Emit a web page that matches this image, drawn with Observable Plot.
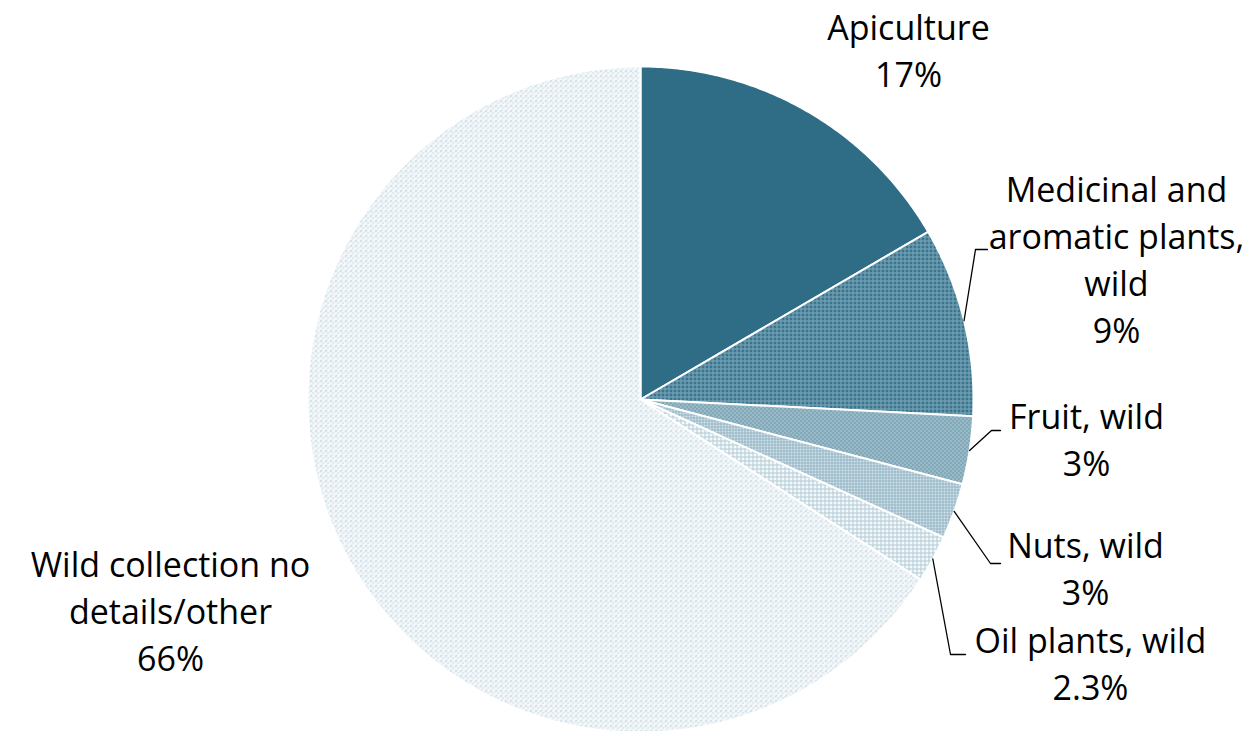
<!DOCTYPE html>
<html>
<head>
<meta charset="utf-8">
<script src="https://cdn.jsdelivr.net/npm/d3@7"></script>
<script src="https://cdn.jsdelivr.net/npm/@observablehq/plot@0.6"></script>
<style>
  html, body { margin: 0; padding: 0; background: #fff; }
  #chart svg { display: block; }
</style>
</head>
<body>
<div id="chart"></div>
<script>
// ---- data ----
const categories = ["Apiculture", "Medicinal and aromatic plants, wild", "Fruit, wild", "Nuts, wild", "Oil plants, wild", "Wild collection no details/other"];
const labelNames = ["Apiculture", "Medicinal and\naromatic plants,\nwild", "Fruit, wild", "Nuts, wild", "Oil plants, wild", "Wild collection no\ndetails/other"];
const shares = [16.6, 9.2, 3.3, 2.7, 2.3, 65.9];
const percentLabels = ["17%", "9%", "3%", "3%", "2.3%", "66%"];

// ---- layout ----
const W = 1251, H = 731;
const cx = 640, cy = 399, R = 333;
const labelPos = [[908, 6], [1116, 168], [1086, 395], [1085, 524], [1090, 619], [170, 543]];
const leaderElbows = [null, [[975, 249], [987, 249]], [[991, 430], [1000, 430]], [[990, 563], [1000, 563]], [[950, 654], [965, 654]], null];
const patternIds = ["p0", "p1", "p2", "p3", "p4", "p5"];

const total = d3.sum(shares);
const pt = (a, r) => [cx + r * Math.sin(a), cy - r * Math.cos(a)];

let cum = 0;
const slices = shares.map((v, i) => {
  const a0 = cum / total * 2 * Math.PI;
  cum += v;
  const a1 = cum / total * 2 * Math.PI;
  const n = Math.max(2, Math.ceil((a1 - a0) / (Math.PI / 360)));
  const pts = [[cx, cy]];
  for (let k = 0; k <= n; k++) pts.push(pt(a0 + (a1 - a0) * k / n, R));
  pts.push([cx, cy]);
  return {i, a0, a1, mid: (a0 + a1) / 2, pts: pts.map(([x, y]) => ({x, y, name: categories[i]}))};
});

const leaders = slices.filter(s => leaderElbows[s.i]).map(s => {
  const start = pt(s.mid, R);
  return [start, ...leaderElbows[s.i]].map(([x, y]) => ({x, y, name: categories[s.i]}));
});

const labels = categories.map((c, i) => ({
  x: labelPos[i][0], y: labelPos[i][1],
  text: labelNames[i] + "\n" + percentLabels[i]
}));

const marks = [];
slices.forEach(s => {
  marks.push(Plot.line(s.pts, {x: "x", y: "y", fill: `url(#${patternIds[s.i]})`, stroke: "white", strokeWidth: 2, strokeLinejoin: "round", curve: "linear"}));
});
leaders.forEach(l => marks.push(Plot.line(l, {x: "x", y: "y", stroke: "black", strokeWidth: 1.3})));
marks.push(Plot.text(labels, {x: "x", y: "y", text: "text", lineAnchor: "top", textAnchor: "middle", lineHeight: 1.38, fontSize: 34, fill: "black"}));

const svg = Plot.plot({
  width: W, height: H,
  margin: 0,
  x: {domain: [0, W], range: [0, W], axis: null},
  y: {domain: [0, H], range: [0, H], axis: null},
  style: {fontFamily: "'Open Sans', Lato, sans-serif", background: "white", overflow: "visible"},
  marks
});

// patterns
const defs = `
<defs>
  <pattern id="p0" width="4" height="4" patternUnits="userSpaceOnUse">
    <rect width="4" height="4" fill="#2f6c86"/>
  </pattern>
  <pattern id="p1" width="4" height="4" patternUnits="userSpaceOnUse">
    <rect width="4" height="4" fill="#3e7a93"/>
    <rect x="0" y="0" width="1" height="4" fill="#7ea5b6"/>
    <rect x="0" y="0" width="4" height="1" fill="#7ea5b6"/>
    <rect x="2" y="2" width="1" height="1" fill="#2b6680"/>
  </pattern>
  <pattern id="p2" width="4" height="4" patternUnits="userSpaceOnUse">
    <rect width="4" height="4" fill="#8fb2c1"/>
    <rect x="0" y="0" width="1" height="1" fill="#5d8ea2"/>
    <rect x="2" y="2" width="1" height="1" fill="#5d8ea2"/>
    <rect x="2" y="0" width="1" height="1" fill="#b5ccd6"/>
    <rect x="0" y="2" width="1" height="1" fill="#b5ccd6"/>
  </pattern>
  <pattern id="p3" width="3" height="3" patternUnits="userSpaceOnUse">
    <rect width="3" height="3" fill="#d6e4ea"/>
    <rect x="0" y="0" width="1" height="3" fill="#91b4c3"/>
    <rect x="0" y="0" width="3" height="1" fill="#91b4c3"/>
  </pattern>
  <pattern id="p4" width="4" height="4" patternUnits="userSpaceOnUse">
    <rect width="4" height="4" fill="#f4f8fa"/>
    <rect x="0" y="0" width="1" height="4" fill="#b0cbd6"/>
    <rect x="0" y="0" width="4" height="1" fill="#b0cbd6"/>
  </pattern>
  <pattern id="p5" width="5" height="5" patternUnits="userSpaceOnUse">
    <rect width="5" height="5" fill="#f3f7f9"/>
    <rect x="0" y="0" width="1" height="1" fill="#8fb3c3"/>
    <rect x="2" y="2" width="1" height="1" fill="#adc8d4"/>
    <rect x="4" y="1" width="1" height="1" fill="#d3e2e8"/>
    <rect x="1" y="4" width="1" height="1" fill="#d3e2e8"/>
  </pattern>
</defs>`;
svg.insertAdjacentHTML("afterbegin", defs);
document.getElementById("chart").appendChild(svg);
</script>
</body>
</html>
